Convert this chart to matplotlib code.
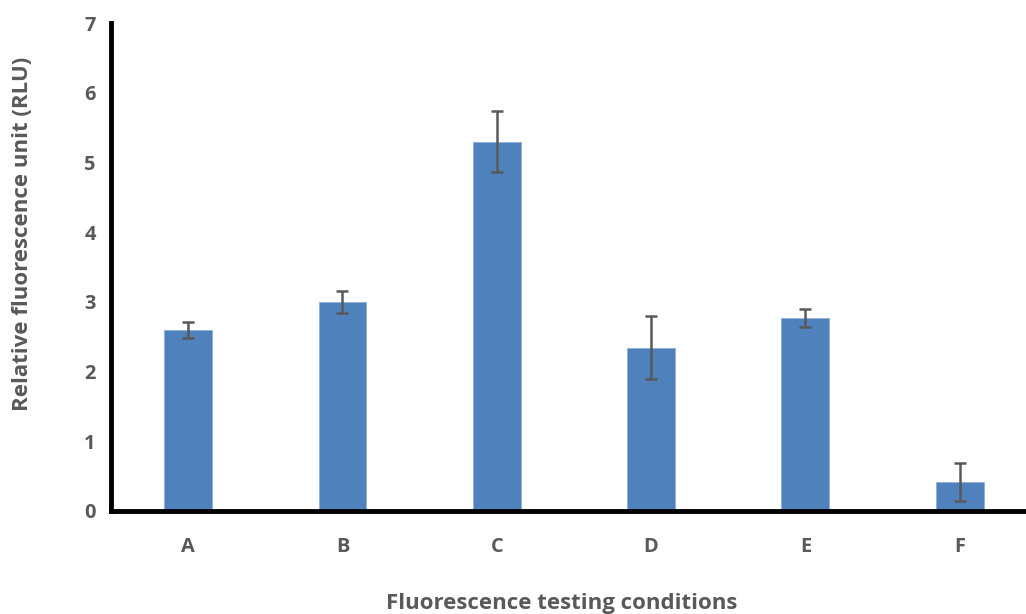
import matplotlib
matplotlib.use("Agg")
import matplotlib.pyplot as plt
import numpy as np

# Conditions tested and their mean fluorescence with standard deviation
conditions = ["A", "B", "C", "D", "E", "F"]
rlu_mean = [2.59, 3.00, 5.30, 2.34, 2.77, 0.42]
rlu_err = [0.115, 0.16, 0.44, 0.45, 0.13, 0.275]
y_ticks = [0, 1, 2, 3, 4, 5, 6, 7]

text_color = "#595959"
bar_color = "#4F81BD"

plt.rcParams["font.family"] = ["Open Sans", "DejaVu Sans"]

W, H = 1026, 614
fig = plt.figure(figsize=(W / 100, H / 100), dpi=100)
ax = fig.add_axes([0.1082, 0.1678, 0.8918, 0.7947])

x = np.arange(len(conditions))
ax.bar(x, rlu_mean, width=0.31, color=bar_color, edgecolor="#8FB0DA", linewidth=0.6,
       zorder=2)
ax.errorbar(x, rlu_mean, yerr=rlu_err, fmt="none", ecolor=text_color,
            elinewidth=1.8, capsize=4.5, capthick=1.8, zorder=3)

ax.set_xlim(-0.5, 5.43)
ax.set_ylim(0, 7)
ax.set_xticks(x)
ax.set_xticklabels(conditions)
ax.set_yticks(y_ticks)

for side in ("top", "right"):
    ax.spines[side].set_visible(False)
for side in ("left", "bottom"):
    ax.spines[side].set_linewidth(3.5)
    ax.spines[side].set_color("black")

ax.tick_params(axis="both", length=0, labelsize=14.4, labelcolor=text_color)
ax.tick_params(axis="x", pad=19)
ax.tick_params(axis="y", pad=11)
for lbl in ax.get_xticklabels() + ax.get_yticklabels():
    lbl.set_fontweight("bold")

# Axis titles placed in figure coordinates
fig.text(562 / W, 1 - 603 / H, "Fluorescence testing conditions", fontsize=16,
         fontweight="bold", color=text_color, ha="center", va="center")
fig.text(23 / W, 1 - 234 / H, "Relative fluorescence unit (RLU)", fontsize=16,
         fontweight="bold", color=text_color, ha="center", va="center",
         rotation=90)

fig.savefig("out.png", dpi=100)
